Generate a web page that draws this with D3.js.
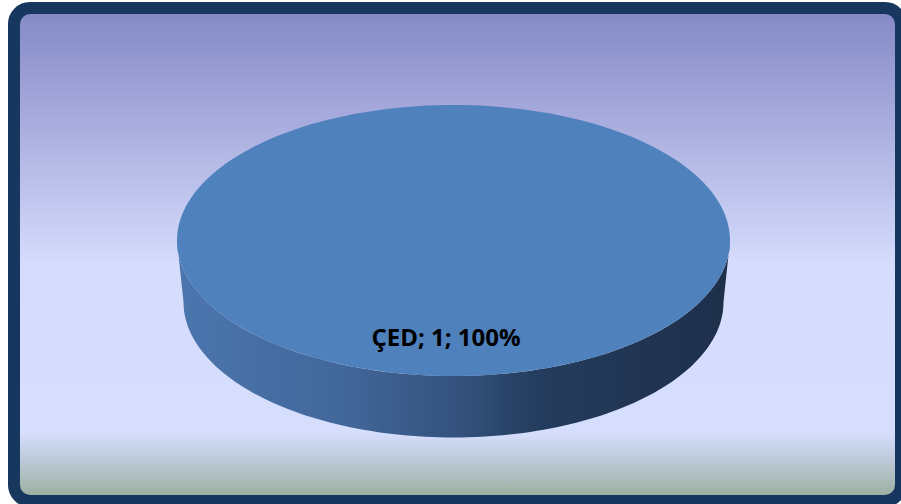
<!DOCTYPE html>
<html><head><meta charset="utf-8">
<script src="https://cdn.jsdelivr.net/npm/d3@7"></script>
<style>html,body{margin:0;padding:0;background:#fff;}svg{display:block;}</style>
</head><body>
<script>
const categories = ["ÇED"];
const values = [1];
const W = 901, H = 504;
const svg = d3.select("body").append("svg").attr("width", W).attr("height", H);
const defs = svg.append("defs");

const bg = defs.append("linearGradient").attr("id","bg").attr("x1",0).attr("y1",0).attr("x2",0).attr("y2",1);
[[0,"#8488c5"],[0.2,"#a3a7da"],[0.52,"#d5dcfc"],[0.86,"#d6defe"],[0.92,"#bcc8d6"],[1,"#98ac98"]]
  .forEach(([o,c])=>bg.append("stop").attr("offset",o).attr("stop-color",c));

const side = defs.append("linearGradient").attr("id","side").attr("x1",0).attr("y1",0).attr("x2",1).attr("y2",0);
[[0,"#4b76ae"],[0.3,"#42679a"],[0.5,"#34537e"],[0.66,"#243c5d"],[1,"#1e2f4a"]]
  .forEach(([o,c])=>side.append("stop").attr("offset",o).attr("stop-color",c));

svg.append("rect").attr("x",14).attr("y",8).attr("width",887).attr("height",493)
  .attr("rx",16).attr("ry",16).attr("fill","url(#bg)")
  .attr("stroke","#17375e").attr("stroke-width",12);

// 3D pie geometry
const cx = 453.5, cy = 240.5, rx = 276.5, ry = 135.5;
const cyB = 302, rxB = 270, ryB = 135.5;
const pie = d3.pie().sort(null);
const arcs = pie(values);
const total = d3.sum(values);

function ellPt(a, cxx, cyy, rxx, ryy){ return [cxx + rxx*Math.sin(a), cyy - ryy*Math.cos(a)]; }

// side (front half)
const N = 120;
let p = [];
for (let i=0;i<=N;i++){ const a = Math.PI/2 + Math.PI*i/N; p.push(ellPt(a,cx,cyB,rxB,ryB)); }
let pt = [];
for (let i=N;i>=0;i--){ const a = Math.PI/2 + Math.PI*i/N; pt.push(ellPt(a,cx,cy,rx,ry)); }
const sidePts = [ellPt(Math.PI/2,cx,cy,rx,ry)].concat(p).concat(pt);
svg.append("path").attr("d", d3.line()(sidePts) + "Z").attr("fill","url(#side)");

// top faces
arcs.forEach((d,i)=>{
  const pts = [];
  const n = Math.max(2, Math.round(200*(d.endAngle-d.startAngle)/(2*Math.PI)));
  if (d.endAngle - d.startAngle < 2*Math.PI - 1e-6) pts.push([cx,cy]);
  for (let k=0;k<=n;k++){ const a = d.startAngle + (d.endAngle-d.startAngle)*k/n; pts.push(ellPt(a,cx,cy,rx,ry)); }
  svg.append("path").attr("d", d3.line()(pts)+"Z").attr("fill","#4f81bd");
  const mid = (d.startAngle + d.endAngle)/2;
  const lp = (d.endAngle - d.startAngle >= 2*Math.PI - 1e-6) ? [cx, cy+97] : ellPt(mid,cx,cy,rx*0.6,ry*0.6);
  svg.append("text").attr("x", lp[0]-7.5).attr("y", lp[1]+8.5)
    .attr("text-anchor","middle")
    .attr("font-family","'Open Sans', 'Liberation Sans', sans-serif")
    .attr("font-weight","bold").attr("font-size",24).attr("fill","#000")
    .text(`${categories[i]}; ${values[i]}; ${Math.round(values[i]/total*100)}%`);
});
</script>
</body></html>
